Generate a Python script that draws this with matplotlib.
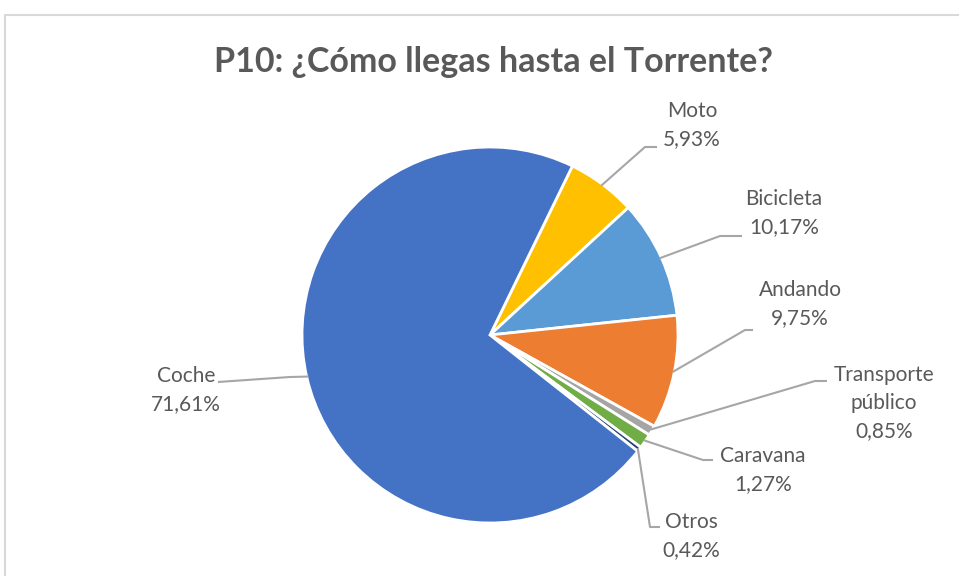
import numpy as np
import matplotlib.pyplot as plt
from matplotlib.patches import Rectangle

plt.rcParams['font.family'] = ['Lato', 'DejaVu Sans']

# data (clockwise order, starting with Moto)
labels = ["Moto", "Bicicleta", "Andando", "Transporte\npúblico", "Caravana", "Otros", "Coche"]
values = [5.93, 10.17, 9.75, 0.85, 1.27, 0.42, 71.61]
colors = ["#FFC000", "#5B9BD5", "#ED7D31", "#A5A5A5", "#70AD47", "#264478", "#4472C4"]

# layout in pixels (y from top): text centre, elbow of leader line, end of leader line
text_pos = [(692, 125), (784, 213), (800, 304), (884, 403), (763, 470), (691, 536), (186, 390)]
elbow = [(645, 147), (720, 236), (745, 330), (815, 381), (703, 460), (650, 527), (290, 377)]
line_end = [(657, 147), (742, 236), (753, 330), (827, 381), (713, 460), (660, 527), (218, 382)]

W, H = 959, 576
fig = plt.figure(figsize=(W / 100, H / 100), dpi=100)
ax = fig.add_axes([0, 0, 1, 1])

cx, cy, r = 490, H - 335, 188
wedges, _ = ax.pie(values, colors=colors, startangle=64, counterclock=False,
                   center=(cx, cy), radius=r, frame=True,
                   wedgeprops=dict(edgecolor='white', linewidth=2))
ax.set_xlim(0, W)
ax.set_ylim(0, H)
ax.set_aspect('equal')
ax.axis('off')

# chart border
ax.add_patch(Rectangle((5, -5), W + 10, H - 15 + 5, fill=False, edgecolor='#D9D9D9', lw=1.5))

ax.text(493, H - 62, "P10: ¿Cómo llegas hasta el Torrente?", ha='center', va='center',
        fontsize=24.5, fontweight='bold', color='#595959')

for w, lab, v, tp, el, le in zip(wedges, labels, values, text_pos, elbow, line_end):
    ang = np.deg2rad((w.theta1 + w.theta2) / 2)
    px, py = cx + r * 0.99 * np.cos(ang), cy + r * 0.99 * np.sin(ang)
    ax.plot([px, el[0], le[0]], [py, H - el[1], H - le[1]], color='#A6A6A6', lw=1.5,
            solid_capstyle='butt')
    txt = lab + "\n" + ("%.2f%%" % v).replace('.', ',')
    ax.text(tp[0], H - tp[1], txt, ha='center', va='center', fontsize=15,
            color='#595959', linespacing=1.5)

fig.savefig("out.png", dpi=100)
